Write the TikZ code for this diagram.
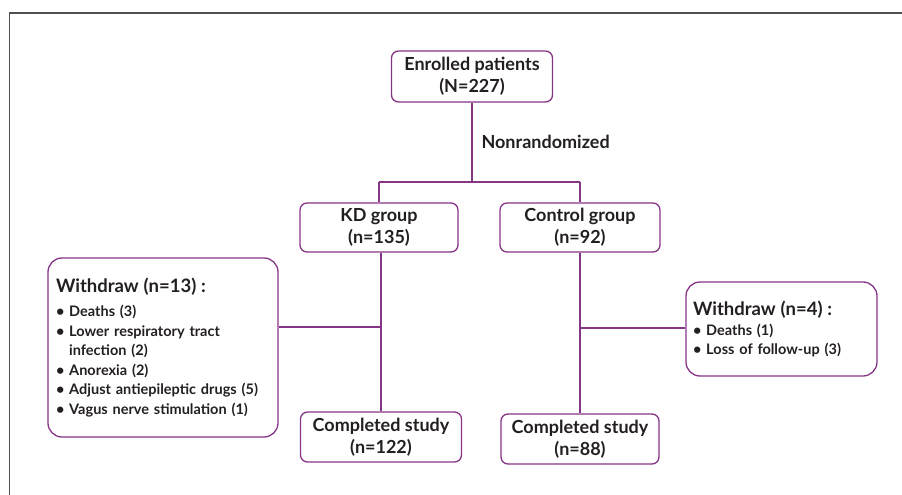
\documentclass[tikz,border=0pt]{standalone}
\usepackage{fontspec}
\setmainfont{Lato}
\definecolor{flowpurple}{RGB}{134,52,134}
\definecolor{framegrey}{RGB}{80,80,80}
\definecolor{txtgrey}{RGB}{35,31,32}
\newcommand{\wdtitle}[1]{{\fontsize{18.5}{20}\selectfont #1}}
\begin{document}
\begin{tikzpicture}[x=1pt,y=-1pt,
  box/.style={draw=flowpurple,line width=1.3pt,rounded corners=7pt,align=center,
    text=txtgrey,font=\bfseries\fontsize{18}{22}\selectfont,inner sep=0pt},
  wdbox/.style={draw=flowpurple,line width=1.3pt,rounded corners=14pt,align=left,
    text=txtgrey,inner ysep=0pt,font=\bfseries\fontsize{14.5}{19.5}\selectfont},
  link/.style={flowpurple,line width=1.3pt}]
\useasboundingbox (0,0) rectangle (902,495);
% frame
\draw[framegrey,line width=1.5pt](9.5,495)--(9.5,13)--(902,13);
% boxes
\node[box,minimum width=161,minimum height=51](enrolled) at(472,76.5){Enrolled patients\\(N=227)};
\node[box,minimum width=158,minimum height=49](kd) at(379,227.5){KD group\\(n=135)};
\node[box,minimum width=160,minimum height=49](ctrl) at(580,227.5){Control group\\(n=92)};
\node[box,minimum width=161,minimum height=50](kddone) at(381,437){Completed study\\(n=122)};
\node[box,minimum width=158,minimum height=50](ctrldone) at(580,439){Completed study\\(n=88)};
\node[wdbox,minimum height=179,text width=214,inner xsep=8](wdkd) at(163,347.5){%
  \wdtitle{Withdraw (n=13) :}\\[5pt]
  \textbullet\ Deaths (3)\\
  \textbullet\ Lower respiratory tract\\
  \phantom{\textbullet\ }infection (2)\\
  \textbullet\ Anorexia (2)\\
  \textbullet\ Adjust antiepileptic drugs (5)\\
  \textbullet\ Vagus nerve stimulation (1)};
\node[wdbox,minimum height=94,text width=177,inner xsep=7](wdctrl) at(781.5,329){%
  \wdtitle{Withdraw (n=4) :}\\
  \textbullet\ Deaths (1)\\
  \textbullet\ Loss of follow-up (3)};
% connectors
\coordinate(split) at(472,182);
\coordinate(kdmid) at(381,327);
\coordinate(ctrlmid) at(580,328);
\draw[link](enrolled.south)--(split);
\draw[link](kd.north|-split)--(ctrl.north|-split);
\draw[link](kd.north|-split)--(kd.north);
\draw[link](ctrl.north|-split)--(ctrl.north);
\node[text=txtgrey,font=\bfseries\fontsize{18}{20}\selectfont,anchor=west](nonrand) at(478,142){Nonrandomized};
\draw[link](kd.south-|kddone.north)--(kddone.north);
\draw[link](ctrl.south)--(ctrldone.north);
\draw[link](wdkd.east|-kdmid)--(kdmid);
\draw[link](ctrlmid)--(ctrlmid-|wdctrl.west);
\end{tikzpicture}
\end{document}
